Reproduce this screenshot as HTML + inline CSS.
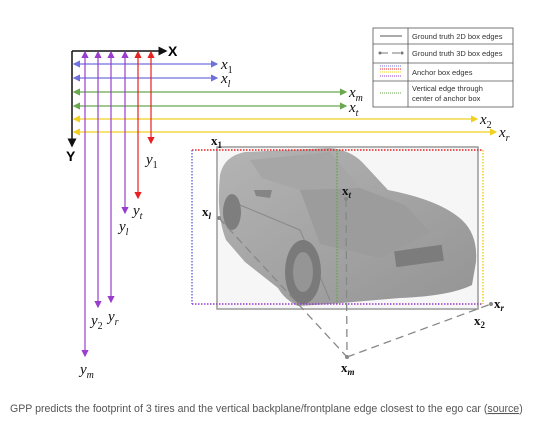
<!DOCTYPE html>
<html><head><meta charset="utf-8"><style>
html,body{margin:0;padding:0;background:#fff;}
body{width:558px;height:434px;overflow:hidden;font-family:"Liberation Sans",sans-serif;}
.it{font-family:"Liberation Serif",serif;font-style:italic;font-size:15px;fill:#111;}
.b{font-family:"Liberation Serif",serif;font-weight:bold;font-size:13px;fill:#111;}
.lg{font-family:"Liberation Sans",sans-serif;font-size:7.5px;fill:#333;}
</style></head><body>
<svg width="558" height="434" viewBox="0 0 558 434">
<defs>
<marker id="aB" markerWidth="6" markerHeight="6" refX="5" refY="3" orient="auto"><path d="M0,0L6,3L0,6z" fill="#111"/></marker>
<marker id="aBl" markerWidth="6" markerHeight="6" refX="5" refY="3" orient="auto-start-reverse"><path d="M0,0L6,3L0,6z" fill="#7070dd"/></marker>
<marker id="aG" markerWidth="6" markerHeight="6" refX="5" refY="3" orient="auto-start-reverse"><path d="M0,0L6,3L0,6z" fill="#6aa84f"/></marker>
<marker id="aY" markerWidth="6" markerHeight="6" refX="5" refY="3" orient="auto-start-reverse"><path d="M0,0L6,3L0,6z" fill="#f0d020"/></marker>
<marker id="aP" markerWidth="6" markerHeight="6" refX="5" refY="3" orient="auto-start-reverse"><path d="M0,0L6,3L0,6z" fill="#9a3ccc"/></marker>
<marker id="aR" markerWidth="6" markerHeight="6" refX="5" refY="3" orient="auto-start-reverse"><path d="M0,0L6,3L0,6z" fill="#e82020"/></marker>
<linearGradient id="car" x1="0" y1="0" x2="1" y2="1"><stop offset="0" stop-color="#b4b4b4"/><stop offset="1" stop-color="#949494"/></linearGradient>
</defs>

<g>
<line x1="72" y1="51" x2="166" y2="51" stroke="#111" stroke-width="1.5" marker-end="url(#aB)"/>
<line x1="72" y1="51" x2="72" y2="146" stroke="#111" stroke-width="1.5" marker-end="url(#aB)"/>
<text x="168" y="56" font-weight="bold" font-size="14" font-family="Liberation Sans">X</text>
<text x="66" y="161" font-weight="bold" font-size="14" font-family="Liberation Sans">Y</text>
</g>

<g stroke-width="1.2">
<line x1="74" y1="64" x2="217" y2="64" stroke="#7070dd" marker-start="url(#aBl)" marker-end="url(#aBl)"/>
<line x1="74" y1="78" x2="217" y2="78" stroke="#7070dd" marker-start="url(#aBl)" marker-end="url(#aBl)"/>
<line x1="74" y1="92" x2="346" y2="92" stroke="#6aa84f" marker-start="url(#aG)" marker-end="url(#aG)"/>
<line x1="74" y1="106" x2="346" y2="106" stroke="#6aa84f" marker-start="url(#aG)" marker-end="url(#aG)"/>
<line x1="74" y1="119" x2="477" y2="119" stroke="#f0d020" marker-start="url(#aY)" marker-end="url(#aY)"/>
<line x1="74" y1="132" x2="496" y2="132" stroke="#f0d020" marker-start="url(#aY)" marker-end="url(#aY)"/>
</g>
<text class="it" x="221" y="69">x<tspan font-size="10" dy="4" font-style="normal">1</tspan></text>
<text class="it" x="221" y="83">x<tspan font-size="10" dy="4">l</tspan></text>
<text class="it" x="349" y="97">x<tspan font-size="10" dy="4">m</tspan></text>
<text class="it" x="349" y="112">x<tspan font-size="10" dy="4">t</tspan></text>
<text class="it" x="480" y="124">x<tspan font-size="10" dy="4" font-style="normal">2</tspan></text>
<text class="it" x="499" y="137">x<tspan font-size="10" dy="4">r</tspan></text>

<g stroke-width="1.2">
<line x1="85" y1="52" x2="85" y2="356" stroke="#9a3ccc" marker-start="url(#aP)" marker-end="url(#aP)"/>
<line x1="98" y1="52" x2="98" y2="307" stroke="#9a3ccc" marker-start="url(#aP)" marker-end="url(#aP)"/>
<line x1="111" y1="52" x2="111" y2="302" stroke="#9a3ccc" marker-start="url(#aP)" marker-end="url(#aP)"/>
<line x1="125" y1="52" x2="125" y2="213" stroke="#9a3ccc" marker-start="url(#aP)" marker-end="url(#aP)"/>
<line x1="138" y1="52" x2="138" y2="198" stroke="#e82020" marker-start="url(#aR)" marker-end="url(#aR)"/>
<line x1="151" y1="52" x2="151" y2="143" stroke="#e82020" marker-start="url(#aR)" marker-end="url(#aR)"/>
</g>
<text class="it" x="146" y="164">y<tspan font-size="10" dy="4" font-style="normal">1</tspan></text>
<text class="it" x="133" y="215">y<tspan font-size="10" dy="4">t</tspan></text>
<text class="it" x="119" y="231">y<tspan font-size="10" dy="4">l</tspan></text>
<text class="it" x="91" y="325">y<tspan font-size="10" dy="4" font-style="normal">2</tspan></text>
<text class="it" x="108" y="321">y<tspan font-size="10" dy="4">r</tspan></text>
<text class="it" x="80" y="374">y<tspan font-size="10" dy="4">m</tspan></text>

<g>
<rect x="373" y="28" width="140" height="79" fill="#fff" stroke="#555" stroke-width="0.8"/>
<line x1="408" y1="28" x2="408" y2="107" stroke="#555" stroke-width="0.8"/>
<line x1="373" y1="44" x2="513" y2="44" stroke="#555" stroke-width="0.8"/>
<line x1="373" y1="63" x2="513" y2="63" stroke="#555" stroke-width="0.8"/>
<line x1="373" y1="81" x2="513" y2="81" stroke="#555" stroke-width="0.8"/>
<line x1="380" y1="36" x2="402" y2="36" stroke="#555"/>
<line x1="380" y1="53" x2="402" y2="53" stroke="#777" stroke-dasharray="8,4"/>
<circle cx="380" cy="53" r="1.5" fill="#777"/><circle cx="402" cy="53" r="1.5" fill="#777"/>
<line x1="380" y1="66" x2="402" y2="66" stroke="#7070dd" stroke-dasharray="1,1"/>
<line x1="380" y1="69" x2="402" y2="69" stroke="#e82020" stroke-dasharray="1,1"/>
<line x1="380" y1="72" x2="402" y2="72" stroke="#f0d020" stroke-dasharray="1,1"/>
<line x1="380" y1="76" x2="402" y2="76" stroke="#9a3ccc" stroke-dasharray="1,1"/>
<line x1="380" y1="93" x2="402" y2="93" stroke="#6aa84f" stroke-dasharray="1,1"/>
<text class="lg" x="412" y="39">Ground truth 2D box edges</text>
<text class="lg" x="412" y="56">Ground truth 3D box edges</text>
<text class="lg" x="412" y="75">Anchor box edges</text>
<text class="lg" x="412" y="91">Vertical edge through</text>
<text class="lg" x="412" y="101">center of anchor box</text>
</g>

<g>
<rect x="218" y="148" width="259" height="160" fill="#f6f6f6"/>
<path d="M220,175 Q224,156 245,152 L330,148 Q350,150 362,162 L388,190 Q440,200 462,220 Q478,235 476,262 L472,285 Q450,296 400,298 L330,304 L298,306 Q285,300 278,288 L245,262 L226,240 Q216,215 220,175 Z" fill="url(#car)"/>
<path d="M250,160 L330,152 L360,188 L300,190 L262,178 Z" fill="#a6a6a6"/>
<path d="M300,190 L360,188 L405,205 L430,232 L380,258 L320,244 Z" fill="#9c9c9c"/>
<path d="M240,205 L300,230 L330,300" fill="none" stroke="#888" stroke-width="1"/>
<rect x="395" y="248" width="48" height="16" fill="#7c7c7c" transform="rotate(-8 419 256)"/>
<ellipse cx="303" cy="272" rx="18" ry="32" fill="#7a7a7a"/>
<ellipse cx="303" cy="272" rx="10" ry="20" fill="#959595"/>
<ellipse cx="232" cy="212" rx="9" ry="18" fill="#7e7e7e"/>
<path d="M254,190 L272,190 L270,198 L256,196 Z" fill="#858585"/>
</g>

<g>
<rect x="217" y="147" width="261" height="162" fill="none" stroke="#999" stroke-width="1.5"/>
<line x1="192" y1="150" x2="483" y2="150" stroke="#e82020" stroke-width="1.5" stroke-dasharray="1.5,1.5"/>
<line x1="192" y1="150" x2="192" y2="304" stroke="#7070dd" stroke-width="1.5" stroke-dasharray="1.5,1.5"/>
<line x1="483" y1="150" x2="483" y2="304" stroke="#f0d020" stroke-width="1.5" stroke-dasharray="1.5,1.5"/>
<line x1="337" y1="150" x2="337" y2="304" stroke="#6aa84f" stroke-width="1.5" stroke-dasharray="1.5,1.5"/>
<line x1="192" y1="304" x2="483" y2="304" stroke="#9a3ccc" stroke-width="1.5" stroke-dasharray="1.5,1.5"/>
<g stroke="#888" stroke-width="1.3" stroke-dasharray="8,5" fill="none">
<line x1="219" y1="218" x2="347" y2="357"/>
<line x1="347" y1="357" x2="491" y2="304"/>
<line x1="346" y1="199" x2="347" y2="357"/>
</g>
<circle cx="219" cy="218" r="2" fill="#888"/><circle cx="347" cy="357" r="2" fill="#888"/>
<circle cx="491" cy="304" r="2" fill="#888"/><circle cx="346" cy="199" r="2" fill="#888"/>
</g>
<text class="b" x="211" y="145">x<tspan font-size="9" dy="3">1</tspan></text>
<text class="b" x="342" y="195">x<tspan font-size="9" dy="3" font-style="italic">t</tspan></text>
<text class="b" x="202" y="216">x<tspan font-size="9" dy="3" font-style="italic">l</tspan></text>
<text class="b" x="494" y="308">x<tspan font-size="9" dy="3" font-style="italic">r</tspan></text>
<text class="b" x="474" y="325">x<tspan font-size="9" dy="3">2</tspan></text>
<text class="b" x="341" y="372">x<tspan font-size="9" dy="3" font-style="italic">m</tspan></text>

<text x="10" y="412" font-size="10.6" fill="#555" font-family="Liberation Sans">GPP predicts the footprint of 3 tires and the vertical backplane/frontplane edge closest to the ego car (<tspan text-decoration="underline">source</tspan>)</text>
</svg>
</body></html>
